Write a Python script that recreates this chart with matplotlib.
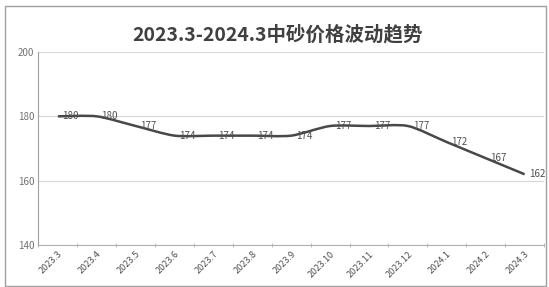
import matplotlib.pyplot as plt
from matplotlib.path import Path
from matplotlib.patches import PathPatch, Rectangle

plt.rcParams['font.family'] = ['Noto Sans CJK SC', 'DejaVu Sans']

months = ['2023.3', '2023.4', '2023.5', '2023.6', '2023.7', '2023.8', '2023.9',
          '2023.10', '2023.11', '2023.12', '2024.1', '2024.2', '2024.3']
prices = [180, 180, 177, 174, 174, 174, 174, 177, 177, 177, 172, 167, 162]
title = '2023.3-2024.3中砂价格波动趋势'

fig = plt.figure(figsize=(5.49, 2.87), dpi=100)
ax = fig.add_axes([0.070, 0.146, 0.921, 0.673])

xs = list(range(len(prices)))

# smoothed line (catmull-rom -> bezier), like excel's smooth line
verts = [(xs[0], prices[0])]
codes = [Path.MOVETO]
n = len(xs)
for i in range(n - 1):
    p0 = (xs[max(i - 1, 0)], prices[max(i - 1, 0)])
    p1 = (xs[i], prices[i])
    p2 = (xs[i + 1], prices[i + 1])
    p3 = (xs[min(i + 2, n - 1)], prices[min(i + 2, n - 1)])
    c1 = (p1[0] + (p2[0] - p0[0]) / 8, p1[1] + (p2[1] - p0[1]) / 8)
    c2 = (p2[0] - (p3[0] - p1[0]) / 8, p2[1] - (p3[1] - p1[1]) / 8)
    verts += [c1, c2, p2]
    codes += [Path.CURVE4] * 3
ax.add_patch(PathPatch(Path(verts, codes), fill=False, edgecolor='#484848', lw=1.8, zorder=3))

for x, v in zip(xs, prices):
    ax.text(x + 0.12, v, str(v), fontsize=7, color='#505050', va='center', ha='left', zorder=4)

ax.set_xlim(-0.5, n - 0.5)
ax.set_ylim(140, 200)
ax.set_yticks([140, 160, 180, 200])
ax.tick_params(axis='y', length=0, labelsize=7, colors='#707070', pad=3)
ax.set_xticks(xs)
ax.set_xticklabels(months, rotation=45, fontsize=6.5, color='#505050', ha='right', rotation_mode='anchor')
ax.set_xticks([i - 0.5 for i in range(n + 1)], minor=True)
ax.tick_params(axis='x', which='major', length=0, pad=3)
ax.tick_params(axis='x', which='minor', length=3, direction='inout', color='#b0b0b0')
ax.grid(axis='y', color='#d8d8d8', lw=0.8)
ax.set_axisbelow(True)
for s in ['top', 'right']:
    ax.spines[s].set_visible(False)
ax.spines['left'].set_color('#a0a0a0')
ax.spines['bottom'].set_color('#b0b0b0')

fig.text(0.505, 0.88, title, fontsize=14, fontweight='bold', color='#404040', ha='center', va='center')
fig.patches.append(Rectangle((0.01, 0.005), 0.985, 0.975, transform=fig.transFigure,
                             fill=False, edgecolor='#a0a0a0', lw=1))

fig.savefig('out.png', dpi=100)
